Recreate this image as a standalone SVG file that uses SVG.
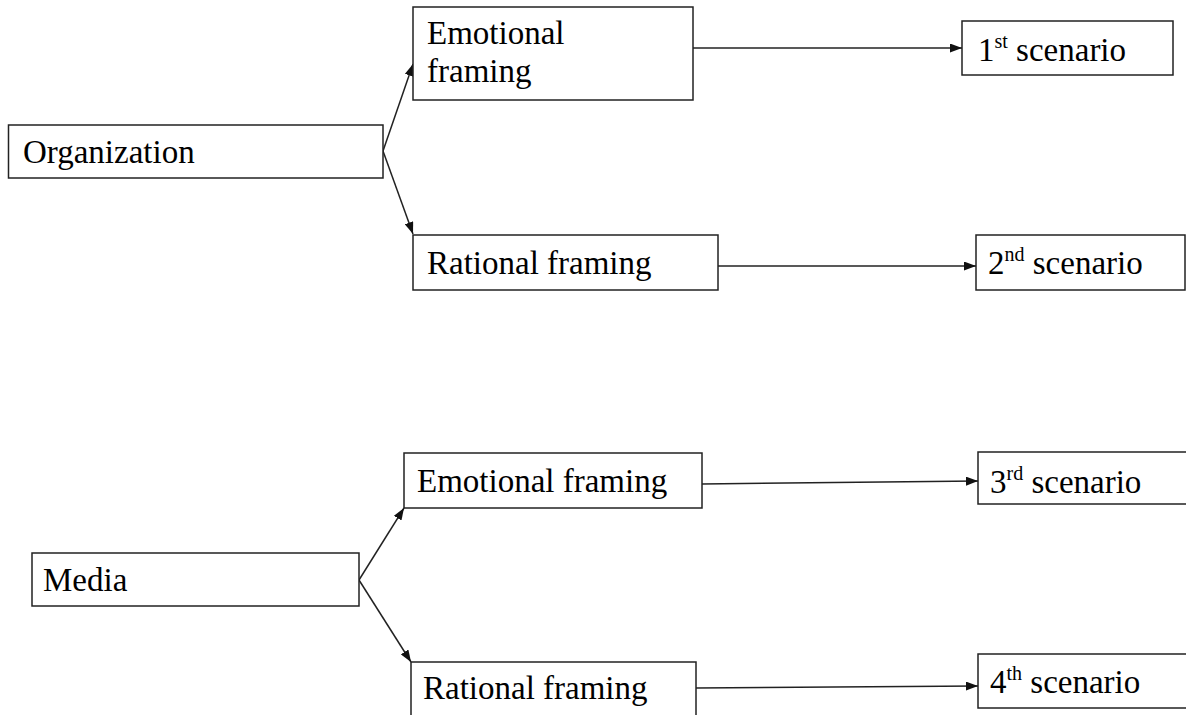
<svg xmlns="http://www.w3.org/2000/svg" width="1186" height="715" viewBox="0 0 1186 715">
<defs>
<style>
.box{fill:#fff;stroke:#222;stroke-width:1.5}
.t{font-family:"Liberation Serif","Times New Roman",serif;font-size:33px;fill:#000}
.sup{font-size:20px}
.c{stroke:#222;stroke-width:1.5;fill:none;marker-end:url(#ah)}
</style>
<marker id="ah" viewBox="0 0 12 9" refX="12" refY="4.5" markerWidth="12" markerHeight="9" markerUnits="userSpaceOnUse" orient="auto">
<path d="M0,0 L12,4.5 L0,9 z" fill="#111"/>
</marker>
</defs>
<rect width="1186" height="715" fill="#fff"/>
<g id="connectors">
<line class="c" x1="383" y1="151" x2="413" y2="64"/>
<line class="c" x1="383" y1="151" x2="413" y2="234"/>
<line class="c" x1="693" y1="48" x2="962" y2="48"/>
<line class="c" x1="718" y1="266" x2="976" y2="266"/>
<line class="c" x1="359" y1="580" x2="404" y2="508"/>
<line class="c" x1="359" y1="580" x2="411" y2="662"/>
<line class="c" x1="702" y1="484" x2="978" y2="481"/>
<line class="c" x1="696" y1="688" x2="978" y2="686"/>
</g>
<g id="organization">
<rect class="box" x="8.5" y="125" width="374.5" height="53"/>
<text class="t" x="23" y="163">Organization</text>
</g>
<g id="emotional-top">
<rect class="box" x="413" y="7" width="280" height="93"/>
<text class="t" x="427" y="44">Emotional</text>
<text class="t" x="427" y="82">framing</text>
</g>
<g id="rational-top">
<rect class="box" x="413" y="235" width="305" height="55"/>
<text class="t" x="427" y="274">Rational framing</text>
</g>
<g id="scenario1">
<rect class="box" x="962" y="21" width="211" height="54"/>
<text class="t" x="978" y="61">1<tspan class="sup" dy="-13">st</tspan><tspan dy="13"> scenario</tspan></text>
</g>
<g id="scenario2">
<rect class="box" x="976" y="235" width="209" height="55"/>
<text class="t" x="988" y="274">2<tspan class="sup" dy="-13">nd</tspan><tspan dy="13"> scenario</tspan></text>
</g>
<g id="media">
<rect class="box" x="32" y="553" width="327" height="53"/>
<text class="t" x="43" y="591">Media</text>
</g>
<g id="emotional-bottom">
<rect class="box" x="404" y="453" width="298" height="55"/>
<text class="t" x="417" y="492">Emotional framing</text>
</g>
<g id="rational-bottom">
<rect class="box" x="411" y="662" width="285" height="60"/>
<text class="t" x="423" y="699">Rational framing</text>
</g>
<g id="scenario3">
<rect class="box" x="978" y="452" width="215" height="52"/>
<text class="t" x="990" y="493">3<tspan class="sup" dy="-13">rd</tspan><tspan dy="13"> scenario</tspan></text>
</g>
<g id="scenario4">
<rect class="box" x="978" y="654" width="215" height="54"/>
<text class="t" x="990" y="693">4<tspan class="sup" dy="-13">th</tspan><tspan dy="13"> scenario</tspan></text>
</g>
</svg>
